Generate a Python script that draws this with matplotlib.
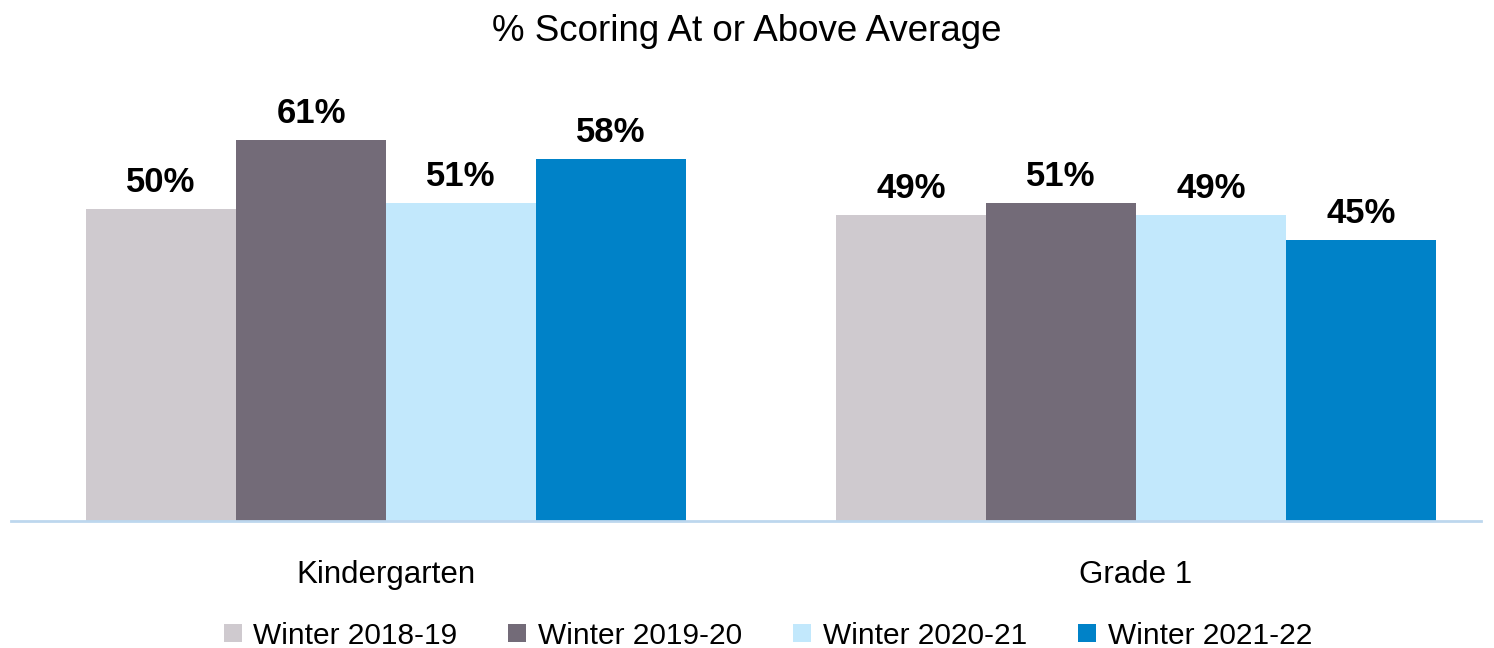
import numpy as np
import matplotlib.pyplot as plt
from matplotlib import font_manager

groups = ['Kindergarten', 'Grade 1']
seasons = ['Winter 2018-19', 'Winter 2019-20', 'Winter 2020-21', 'Winter 2021-22']
values = {
    'Winter 2018-19': [50, 49],
    'Winter 2019-20': [61, 51],
    'Winter 2020-21': [51, 49],
    'Winter 2021-22': [58, 45],
}
colors = ['#CFCACF', '#736B78', '#C2E8FC', '#0082C8']

names = {f.name for f in font_manager.fontManager.ttflist}
fam = 'Liberation Sans Narrow' if 'Liberation Sans Narrow' in names else 'Liberation Sans'
plt.rcParams['font.family'] = [fam, 'DejaVu Sans']

fig = plt.figure(figsize=(14.94, 6.48), dpi=100)
ax = fig.add_axes([11/1494, 127/648, 1470/1494, 437/648])

x = np.arange(len(groups))
w = 0.2
for i, s in enumerate(seasons):
    pos = x + (i - 1.5) * w
    bars = ax.bar(pos, values[s], w, color=colors[i], label=s)
    for b, v in zip(bars, values[s]):
        ax.text(b.get_x() + w/2, v + 1.6, f'{v}%', ha='center', va='bottom',
                fontsize=25, fontweight='bold')

ax.set_xlim(-0.5, 1.46)
ax.set_ylim(0, 70)
ax.set_yticks([])
for sp in ['top', 'right', 'left']:
    ax.spines[sp].set_visible(False)
ax.spines['bottom'].set_color('#BDD7EE')
ax.spines['bottom'].set_linewidth(2)
ax.set_xticks(x)
ax.set_xticklabels(groups, fontsize=22.5)
ax.tick_params(axis='x', length=0, pad=28)

fig.suptitle('% Scoring At or Above Average', fontsize=26.5, y=0.978)
fig.legend(loc='lower center', ncol=4, fontsize=21.5, frameon=False,
           bbox_to_anchor=(0.514, -0.03), handlelength=0.6, handleheight=0.6,
           columnspacing=1.7, handletextpad=0.4, borderaxespad=0.2)

fig.savefig('out.png', dpi=100)
